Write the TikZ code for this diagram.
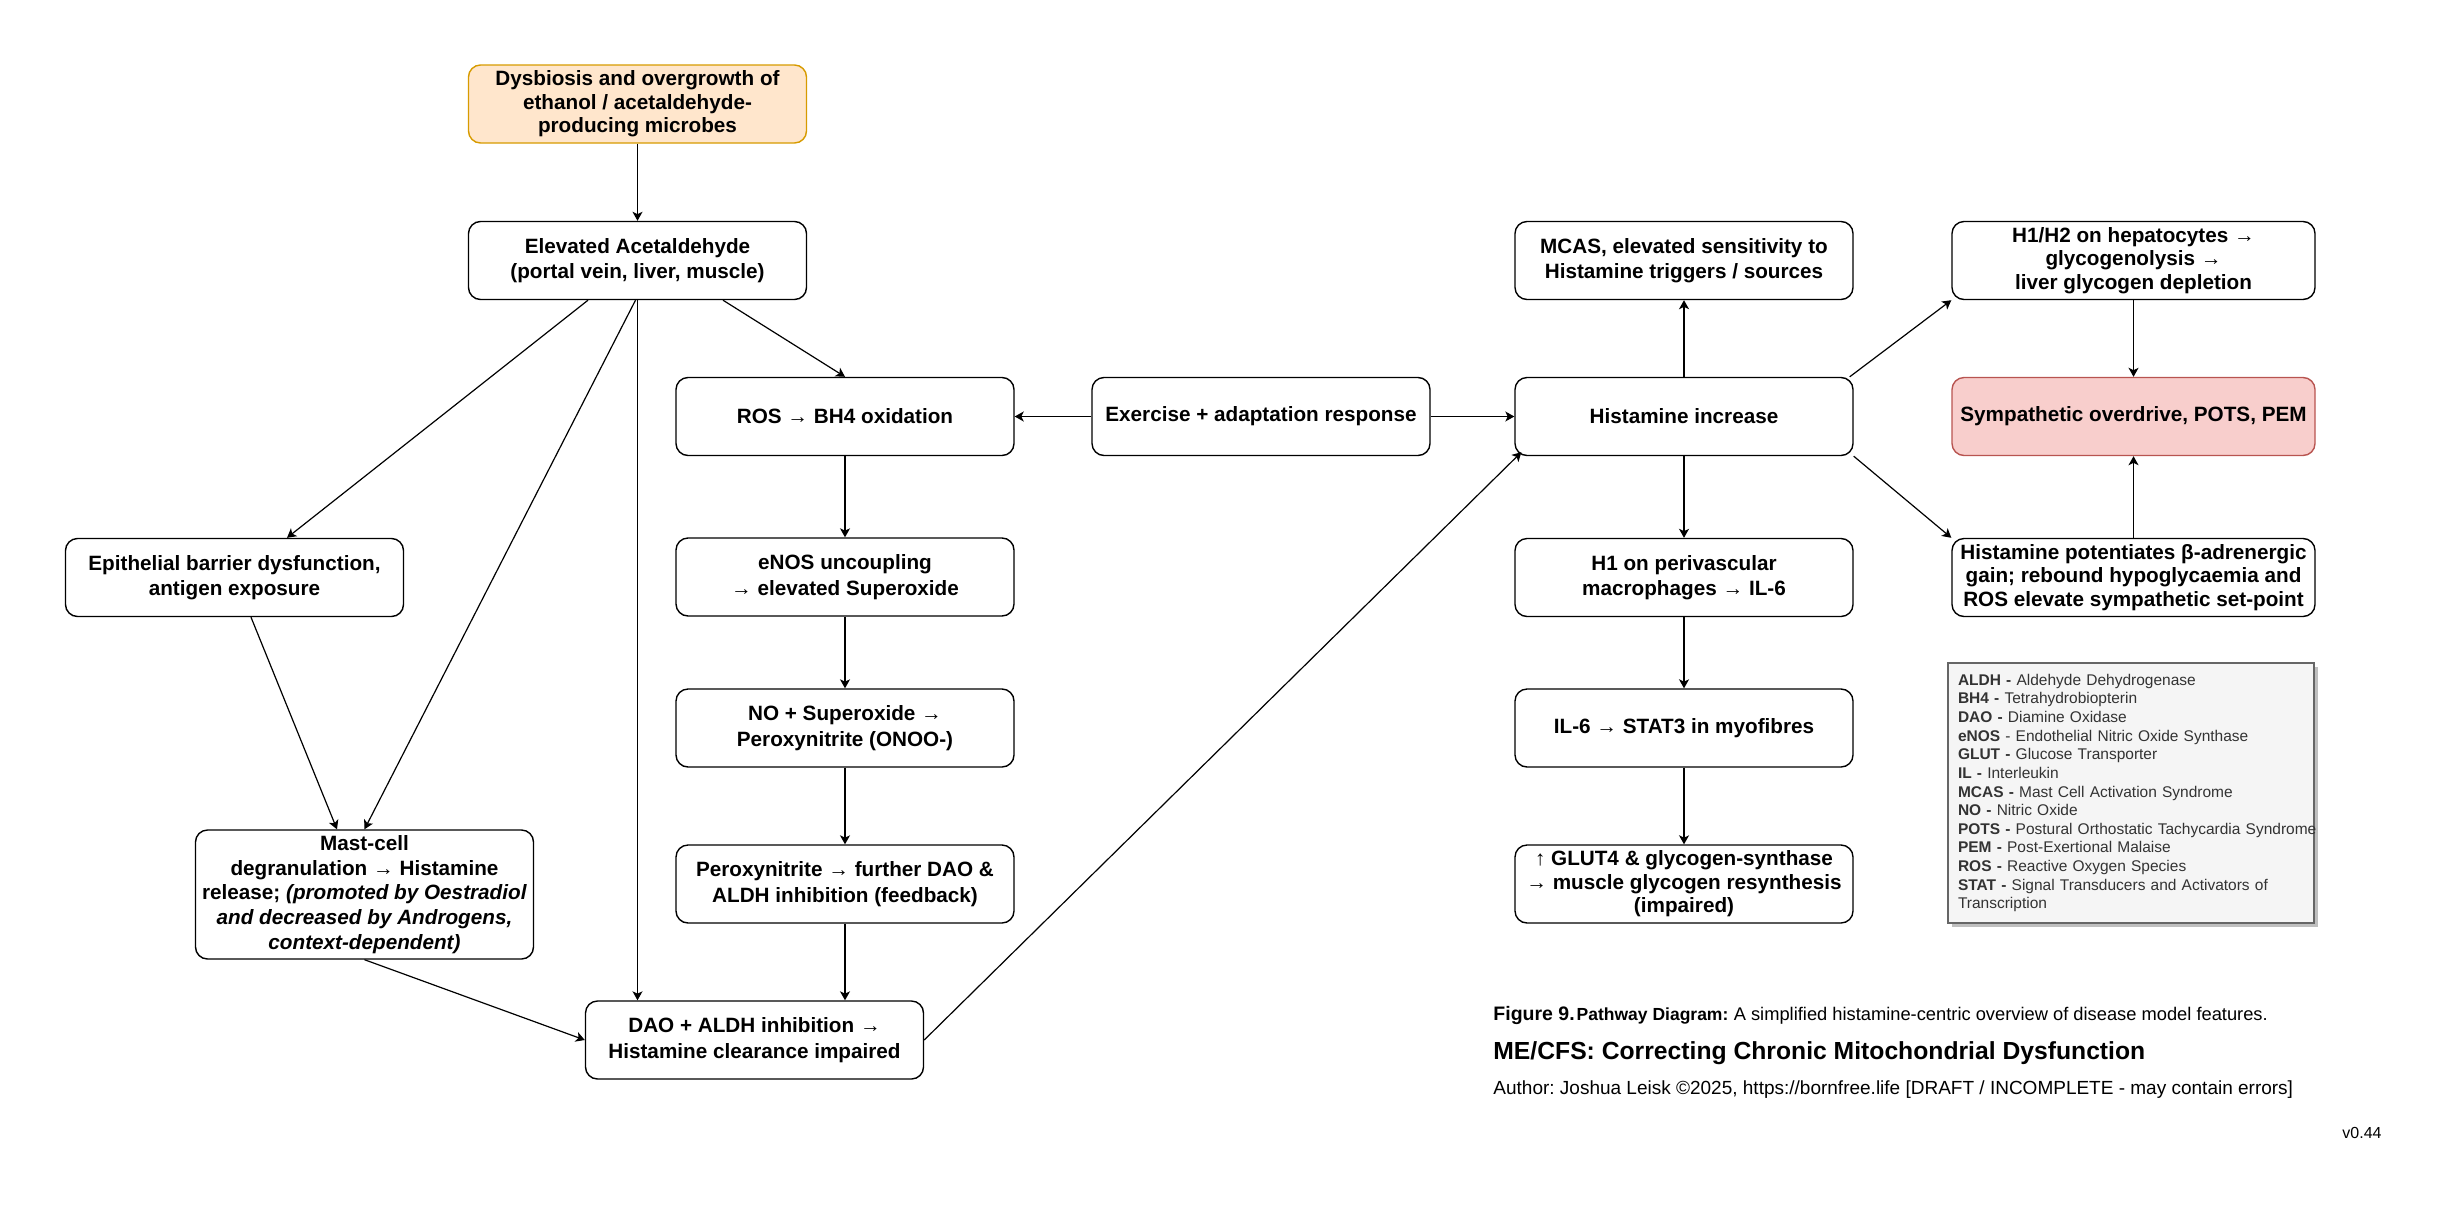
\documentclass[tikz,border=0pt]{standalone}
\usepackage{fontspec}
\setmainfont{Liberation Sans}
\usetikzlibrary{arrows.meta,shadows,calc}
\definecolor{dysfill}{HTML}{FFE6CC}
\definecolor{dysdraw}{HTML}{D79B00}
\definecolor{symfill}{HTML}{F8CECC}
\definecolor{symdraw}{HTML}{B85450}
\definecolor{legfill}{HTML}{F5F5F5}
\definecolor{legdraw}{HTML}{666666}
\definecolor{legtext}{HTML}{333333}
\frenchspacing
\begin{document}
\begin{tikzpicture}[x=0.5pt,y=-0.5pt,
  box/.style={draw=black, line width=0.7pt, rounded corners=6pt, fill=white,
    minimum width=169pt, minimum height=39pt, align=center, inner sep=2pt,
    font=\fontsize{10.35}{12.8}\selectfont\bfseries},
  tight/.style={font=\fontsize{10.35}{11.7}\selectfont\bfseries},
  conn/.style={draw=black, line width=0.6pt, -{Stealth[length=4.5pt,width=5pt,inset=1.2pt]}},
  captext/.style={inner sep=0pt, anchor=base west},
]
\useasboundingbox (0,0) rectangle (2445,1210);

% left column
\node[box, fill=dysfill, draw=dysdraw, tight] (dys) at (637.5,104) {Dysbiosis and overgrowth of\\ethanol / acetaldehyde-\\producing microbes};
\node[box] (elev) at (637.5,260.5) {Elevated Acetaldehyde\\(portal vein, liver, muscle)};
\node[box] (epi) at (234.5,577.5) {Epithelial barrier dysfunction,\\antigen exposure};
\node[box, tight, minimum height=64.5pt, font=\fontsize{10.35}{12.3}\selectfont\bfseries] (mast) at (364.5,894.5) {Mast-cell\\degranulation → Histamine\\release; \textit{(promoted by Oestradiol}\\\textit{and decreased by Androgens,}\\\textit{context-dependent)}};

% middle column
\node[box] (ros) at (845,416.5) {ROS → BH4 oxidation};
\node[box] (exer) at (1261,416.5) {Exercise + adaptation response};
\node[box] (enos) at (845,577) {eNOS uncoupling\\→ elevated Superoxide};
\node[box] (no) at (845,728) {NO + Superoxide →\\Peroxynitrite (ONOO-)};
\node[box] (perox) at (845,884) {Peroxynitrite → further DAO \&\\ALDH inhibition (feedback)};
\node[box] (dao) at (754.5,1040) {DAO + ALDH inhibition →\\Histamine clearance impaired};

% histamine column
\node[box] (mcas) at (1684,260.5) {MCAS, elevated sensitivity to\\Histamine triggers / sources};
\node[box] (hist) at (1684,416.5) {Histamine increase};
\node[box] (h1) at (1684,577.5) {H1 on perivascular\\macrophages → IL-6};
\node[box] (il6) at (1684,728) {IL-6 → STAT3 in myofibres};
\node[box, tight] (glut) at (1684,884) {↑ GLUT4 \& glycogen-synthase\\→ muscle glycogen resynthesis\\(impaired)};

% right column
\node[box, tight, minimum width=181.5pt] (h12) at (2133.5,260.5) {H1/H2 on hepatocytes →\\glycogenolysis →\\liver glycogen depletion};
\node[box, minimum width=181.5pt, fill=symfill, draw=symdraw] (symp) at (2133.5,416.5) {Sympathetic overdrive, POTS, PEM};
\node[box, tight, minimum width=181.5pt] (pot) at (2133.5,577.5) {Histamine potentiates β-adrenergic\\gain; rebound hypoglycaemia and\\ROS elevate sympathetic set-point};

% legend
\node[draw=legdraw, fill=legfill, line width=0.6pt, minimum width=183pt, minimum height=130pt,
  inner xsep=5pt, inner ysep=0pt, align=left, text width=173pt, text=legtext,
  drop shadow={shadow xshift=2pt, shadow yshift=-2pt, opacity=0.25, fill=black},
  font=\fontsize{7.75}{9.33}\selectfont] (legend) at (2131,793)
{\textbf{ALDH -} Aldehyde Dehydrogenase\\
\textbf{BH4 -} Tetrahydrobiopterin\\
\textbf{DAO -} Diamine Oxidase\\
\textbf{eNOS} - Endothelial Nitric Oxide Synthase\\
\textbf{GLUT -} Glucose Transporter\\
\textbf{IL -} Interleukin\\
\textbf{MCAS -} Mast Cell Activation Syndrome\\
\textbf{NO -} Nitric Oxide\\
\mbox{\textbf{POTS -} Postural Orthostatic Tachycardia Syndrome}\\
\textbf{PEM -} Post-Exertional Malaise\\
\textbf{ROS -} Reactive Oxygen Species\\
\textbf{STAT -} Signal Transducers and Activators of\\
Transcription};

% caption
\node[captext] (fig) at (1493,1020) {\fontsize{9.75}{11}\selectfont\bfseries Figure 9.\hspace{1pt}{\fontsize{8.75}{11}\selectfont Pathway Diagram:} {\fontsize{9.15}{11}\selectfont\mdseries A simplified histamine-centric overview of disease model features.}};
\node[captext] (title) at (1493,1059) {\fontsize{12.35}{14}\selectfont\bfseries ME/CFS: Correcting Chronic Mitochondrial Dysfunction};
\node[captext] (author) at (1493,1094) {\fontsize{9.5}{11}\selectfont Author: Joshua Leisk ©2025, https://bornfree.life [DRAFT / INCOMPLETE - may contain errors]};
\node[inner sep=0pt, anchor=base east] (ver) at (2382,1138) {\fontsize{8}{10}\selectfont v0.44};

% connectors
\draw[conn] (dys) -- (elev);
\draw[conn] ([xshift=-24.75pt]elev.south) -- ([xshift=26.25pt]epi.north);
\draw[conn] ([xshift=-1pt]elev.south) -- (mast.north);
\draw[conn] (elev.south) -- (elev.south |- dao.north);
\draw[conn] ([xshift=42.75pt]elev.south) -- (ros.north);
\draw[conn] ([xshift=8.25pt]epi.south) -- ([xshift=-13.75pt]mast.north);
\draw[conn] (mast.south) -- (dao.west);
\draw[conn] (ros) -- (enos);
\draw[conn] (enos) -- (no);
\draw[conn] (no) -- (perox);
\draw[conn] (perox.south) -- (perox.south |- dao.north);
\draw[conn] (exer) -- (ros);
\draw[conn] (exer) -- (hist);
\draw[conn] (dao.east) -- ([shift={(3.5pt,2pt)}]hist.south west);
\draw[conn] (hist) -- (mcas);
\draw[conn] (hist) -- (h1);
\draw[conn] (h1) -- (il6);
\draw[conn] (il6) -- (glut);
\draw[conn] ([xshift=-2pt]hist.north east) -- (h12.south west);
\draw[conn] (hist.south east) -- (pot.north west);
\draw[conn] (h12) -- (symp);
\draw[conn] (pot) -- (symp);
\end{tikzpicture}
\end{document}
